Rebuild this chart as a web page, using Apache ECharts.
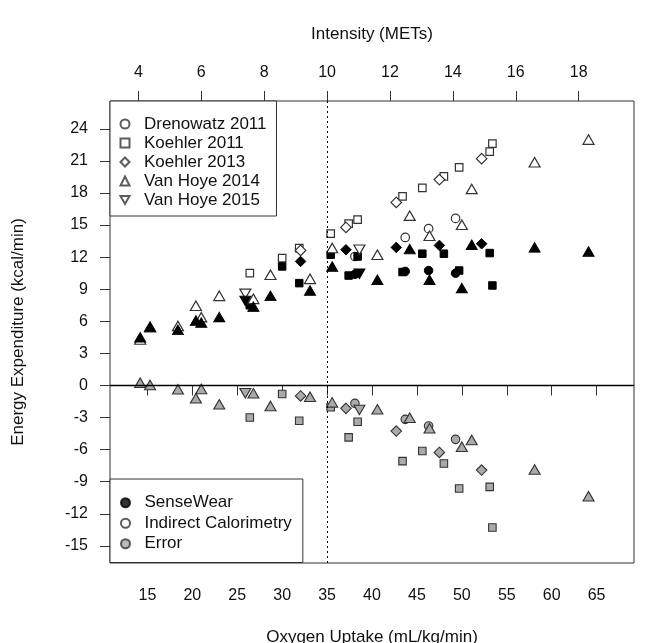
<!DOCTYPE html>
<html><head><meta charset="utf-8">
<script src="https://cdn.jsdelivr.net/npm/echarts@6/dist/echarts.min.js"></script>
<style>html,body{margin:0;padding:0;background:#fff}#c{width:655px;height:643px}</style>
</head><body><div id="c"></div>
<script>
// ---- data ----
const studies = ['Drenowatz 2011', 'Koehler 2011', 'Koehler 2013', 'Van Hoye 2014', 'Van Hoye 2015'];
const measures = ['SenseWear', 'Indirect Calorimetry', 'Error'];

const drenowatzX   = [38.1, 43.7, 46.3, 49.3];
const drenowatzIC  = [12.06, 13.84, 14.66, 15.62];
const drenowatzSW  = [10.39, 10.67, 10.75, 10.5];
const drenowatzErr = [-1.67, -3.17, -3.79, -5.04];

const koehler11X   = [26.4, 30.0, 31.9, 35.4, 37.4, 38.4, 43.4, 45.6, 48.0, 49.7, 53.1, 53.4];
const koehler11IC  = [10.5, 11.91, 12.85, 14.19, 15.13, 15.5, 17.68, 18.47, 19.56, 20.4, 21.87, 22.62];
const koehler11SW  = [7.5, 11.13, 9.57, 12.22, 10.28, 12.06, 10.61, 12.32, 12.32, 10.75, 12.38, 9.35];
const koehler11Err = [-3.0, -0.8, -3.3, -2.04, -4.85, -3.39, -7.07, -6.13, -7.29, -9.63, -9.48, -13.28];

const koehler13X   = [32.05, 37.1, 42.7, 47.5, 52.2];
const koehler13IC  = [12.63, 14.78, 17.12, 19.25, 21.21];
const koehler13SW  = [11.6, 12.69, 12.91, 13.1, 13.25];
const koehler13Err = [-0.98, -2.14, -4.26, -6.26, -7.91];

const vanHoye14X   = [14.2, 15.3, 18.4, 20.4, 21.0, 23.0, 26.8, 28.7, 33.1, 35.57, 40.6, 44.2, 46.4, 50.0, 51.1, 58.1, 64.1];
const vanHoye14IC  = [4.3, 5.45, 5.57, 7.45, 6.39, 8.38, 8.1, 10.35, 9.97, 12.85, 12.22, 15.88, 14.0, 15.03, 18.38, 20.87, 22.99];
const vanHoye14SW  = [4.51, 5.5, 5.2, 6.07, 5.88, 6.39, 7.37, 8.38, 8.88, 11.13, 9.88, 12.75, 9.88, 9.1, 13.16, 12.91, 12.53];
const vanHoye14Err = [0.26, 0.05, -0.36, -1.2, -0.33, -1.76, -0.73, -1.92, -1.05, -1.58, -2.23, -3.01, -4.01, -5.73, -5.1, -7.85, -10.35];

const vanHoye15X   = [25.9, 38.6];
const vanHoye15IC  = [8.57, 12.69];
const vanHoye15SW  = [7.91, 10.44];
const vanHoye15Err = [-0.73, -2.29];

const xTicks   = [15, 20, 25, 30, 35, 40, 45, 50, 55, 60, 65];
const yTicks   = [-15, -12, -9, -6, -3, 0, 3, 6, 9, 12, 15, 18, 21, 24];
const metTicks = [4, 6, 8, 10, 12, 14, 16, 18];
const refVO2 = 35;   // dotted reference line (10 METs)
const refEE = 0;     // zero line
const mlPerMet = 3.5;

// ---- styles ----
const FONT = 'Liberation Sans, Arial, sans-serif';
const INK = '#111';
const EDGE = '#333';
const studyData = [
  {x: drenowatzX, ic: drenowatzIC, sw: drenowatzSW, err: drenowatzErr},
  {x: koehler11X, ic: koehler11IC, sw: koehler11SW, err: koehler11Err},
  {x: koehler13X, ic: koehler13IC, sw: koehler13SW, err: koehler13Err},
  {x: vanHoye14X, ic: vanHoye14IC, sw: vanHoye14SW, err: vanHoye14Err},
  {x: vanHoye15X, ic: vanHoye15IC, sw: vanHoye15SW, err: vanHoye15Err}
];
const DOWN_TRI = 'path://M0,0L10,0L5,8.66Z';
const shapes = [
  {symbol: 'circle', size: 8.5, rot: 0},
  {symbol: 'rect', size: 7.5, rot: 0},
  {symbol: 'diamond', size: [10.5, 10.5], rot: 0},
  {symbol: 'triangle', size: [11, 9.5], rot: 0},
  {symbol: 'triangle', size: [11, 9.5], rot: 180}
];
const measureStyle = {
  ic:  {color: '#fff', borderColor: EDGE, borderWidth: 1.2},
  sw:  {color: '#000', borderColor: '#000', borderWidth: 1},
  err: {color: '#aaa', borderColor: EDGE, borderWidth: 1.1}
};

const series = [];
// reference lines
series.push({
  type: 'scatter', name: 'refs', data: [], z: 1, silent: true,
  markLine: {
    silent: true, symbol: ['none', 'none'], label: {show: false}, animation: false,
    data: [
      {yAxis: refEE, lineStyle: {type: 'solid', color: '#000', width: 1.3}},
      {xAxis: refVO2, lineStyle: {type: [2, 3], color: '#000', width: 1}}
    ]
  }
});
studyData.forEach((s, k) => {
  ['ic', 'sw', 'err'].forEach(m => {
    series.push({
      type: 'scatter', name: 's' + k + m, z: 3,
      symbol: shapes[k].symbol, symbolSize: shapes[k].size, symbolRotate: shapes[k].rot,
      itemStyle: Object.assign({opacity: 1}, measureStyle[m]),
      data: s.x.map((v, i) => [v, s[m][i]])
    });
  });
});
// legend-only series
studies.forEach((n, k) => {
  series.push({type: 'scatter', name: n, data: [], symbol: k === 4 ? DOWN_TRI : shapes[k].symbol,
    itemStyle: {color: '#fff', borderColor: EDGE, borderWidth: 1.2}});
});
series.push({type: 'scatter', name: measures[0], data: [], symbol: 'circle', itemStyle: measureStyle.sw});
series.push({type: 'scatter', name: measures[1], data: [], symbol: 'circle', itemStyle: measureStyle.ic});
series.push({type: 'scatter', name: measures[2], data: [], symbol: 'circle', itemStyle: measureStyle.err});

const xMin = 10.84, xMax = 69.16, yMin = -16.6, yMax = 26.6;
const tickStyle = {show: true, length: 10, lineStyle: {color: EDGE, width: 1}};
const labelBase = {fontSize: 16, color: INK, fontFamily: FONT};
const nameStyle = {fontSize: 17, color: INK, fontFamily: FONT};

const option = {
  animation: false,
  backgroundColor: '#fff',
  grid: {left: 110, right: 21, top: 101, bottom: 80, show: true, borderColor: EDGE, borderWidth: 1,
         backgroundColor: 'transparent', containLabel: false, outerBoundsMode: 'none'},
  xAxis: [
    {type: 'value', position: 'bottom', min: xMin, max: xMax,
     axisLine: {show: false}, splitLine: {show: false},
     axisTick: Object.assign({customValues: xTicks}, tickStyle),
     axisLabel: Object.assign({customValues: xTicks, margin: 25}, labelBase),
     name: 'Oxygen Uptake (mL/kg/min)', nameLocation: 'middle', nameGap: 66, nameTextStyle: nameStyle},
    {type: 'value', position: 'top', min: xMin, max: xMax,
     axisLine: {show: false}, splitLine: {show: false},
     axisTick: Object.assign({customValues: metTicks.map(m => m * mlPerMet)}, tickStyle),
     axisLabel: Object.assign({customValues: metTicks.map(m => m * mlPerMet), margin: 20,
       formatter: v => String(Math.round(v / mlPerMet))}, labelBase),
     name: 'Intensity (METs)', nameLocation: 'middle', nameGap: 58, nameTextStyle: nameStyle}
  ],
  yAxis: {type: 'value', min: yMin, max: yMax,
    axisLine: {show: false}, splitLine: {show: false},
    axisTick: Object.assign({customValues: yTicks}, tickStyle),
    axisLabel: Object.assign({customValues: yTicks, margin: 22}, labelBase),
    name: 'Energy Expenditure (kcal/min)', nameLocation: 'middle', nameGap: 83, nameTextStyle: nameStyle},
  legend: [
    {data: studies, orient: 'vertical', left: 110, top: 101, itemWidth: 9, itemHeight: 9, itemGap: 0,
     padding: [13.5, 10, 6.5, 9.5], borderColor: EDGE, borderWidth: 1, backgroundColor: '#fff', borderRadius: 0,
     selectedMode: false, formatter: n => '  ' + n,
     textStyle: {fontSize: 17, lineHeight: 19, color: INK, fontFamily: FONT}},
    {data: measures, orient: 'vertical', left: 110, top: 479, itemWidth: 9, itemHeight: 9, itemGap: 0,
     padding: [13.5, 11, 8.5, 10], borderColor: EDGE, borderWidth: 1, backgroundColor: '#fff', borderRadius: 0,
     selectedMode: false, formatter: n => '  ' + n,
     textStyle: {fontSize: 17, lineHeight: 20.5, color: INK, fontFamily: FONT}}
  ],
  series: series
};
const chart = echarts.init(document.getElementById('c'), null, {renderer: 'canvas'});
chart.setOption(option);
</script></body></html>
